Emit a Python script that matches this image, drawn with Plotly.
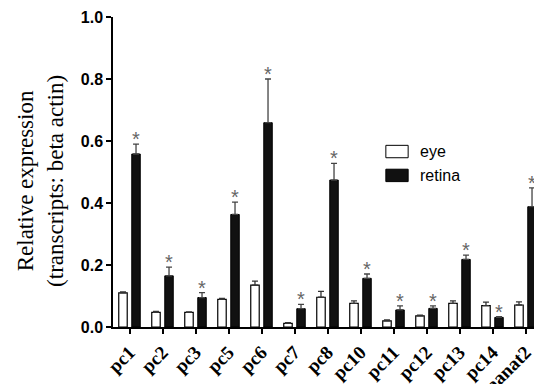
import plotly.graph_objects as go

categories = ["pc1", "pc2", "pc3", "pc5", "pc6", "pc7", "pc8", "pc10", "pc11", "pc12", "pc13", "pc14", "aanat2"]
eye = [0.110, 0.047, 0.047, 0.089, 0.135, 0.012, 0.096, 0.076, 0.020, 0.036, 0.076, 0.069, 0.071]
eye_err = [0.003, 0.003, 0.002, 0.003, 0.013, 0.002, 0.019, 0.008, 0.003, 0.002, 0.008, 0.011, 0.010]
retina = [0.558, 0.165, 0.095, 0.363, 0.659, 0.059, 0.474, 0.157, 0.055, 0.060, 0.218, 0.031, 0.388]
retina_err = [0.032, 0.028, 0.016, 0.040, 0.141, 0.014, 0.054, 0.014, 0.013, 0.008, 0.014, 0.002, 0.061]
significant = [True] * 13
legend_labels = ["eye", "retina"]
y_title = "Relative expression<br>(transcripts: beta actin)"

fig = go.Figure()
fig.add_trace(go.Bar(
    name="eye", x=categories, y=eye,
    marker=dict(color="white", line=dict(color="black", width=1.2)),
    error_y=dict(type="data", array=eye_err, visible=True, color="#333", thickness=1.3, width=3,
                 symmetric=False, arrayminus=[0] * len(categories)),
))
fig.add_trace(go.Bar(
    name="retina", x=categories, y=retina,
    marker=dict(color="#111111", line=dict(color="black", width=1)),
    error_y=dict(type="data", array=retina_err, visible=True, color="#444", thickness=1.3, width=3,
                 symmetric=False, arrayminus=[0] * len(categories)),
))

for c, v, e, s in zip(categories, retina, retina_err, significant):
    if s:
        fig.add_annotation(x=c, y=v + e, xref="x", yref="y", text="*", showarrow=False,
                           xshift=6.5, yshift=-8, yanchor="bottom",
                           font=dict(family="Arial", size=20, color="#666"))

# custom legend (rectangular swatches as in the reference)
swatch_fill = ["white", "#111111"]
for i, (lab, fill) in enumerate(zip(legend_labels, swatch_fill)):
    yc = 0.566 - i * 0.077
    fig.add_shape(type="rect", xref="paper", yref="paper",
                  x0=0.636, x1=0.688, y0=yc - 0.02, y1=yc + 0.02,
                  line=dict(color="black", width=1), fillcolor=fill)
    fig.add_annotation(xref="paper", yref="paper", x=0.712, y=yc, text=lab, showarrow=False,
                       xanchor="left", yanchor="middle",
                       font=dict(family="Arial", size=16, color="black"))

# y-axis title as a rotated annotation (positioned like the reference)
fig.add_annotation(xref="paper", yref="paper", x=-0.168, y=0.471, text=y_title, showarrow=False,
                   textangle=-90, xanchor="center", yanchor="middle",
                   font=dict(family="Liberation Serif", size=23, color="black"))

fig.update_layout(
    width=534, height=376,
    margin=dict(l=105, r=0, t=9, b=57),
    plot_bgcolor="white", paper_bgcolor="white",
    barmode="group", bargap=0.21, bargroupgap=0.35,
    showlegend=False,
    xaxis=dict(
        showline=True, linecolor="black", linewidth=1.5,
        ticks="outside", ticklen=5, tickcolor="black", tickwidth=1.5,
        tickangle=-45, automargin=False,
        tickfont=dict(family="Liberation Serif", size=19, color="black", weight="bold"),
        range=[-0.5, 12.5],
    ),
    yaxis=dict(
        range=[0, 1.0], dtick=0.2, tickformat=".1f",
        showline=True, linecolor="black", linewidth=1.5,
        ticks="outside", ticklen=5, tickcolor="black", tickwidth=1.5,
        showgrid=False, zeroline=False, automargin=False,
        tickfont=dict(family="Arial", size=16, color="black", weight="bold"),
    ),
)

fig.write_html("out.html")
